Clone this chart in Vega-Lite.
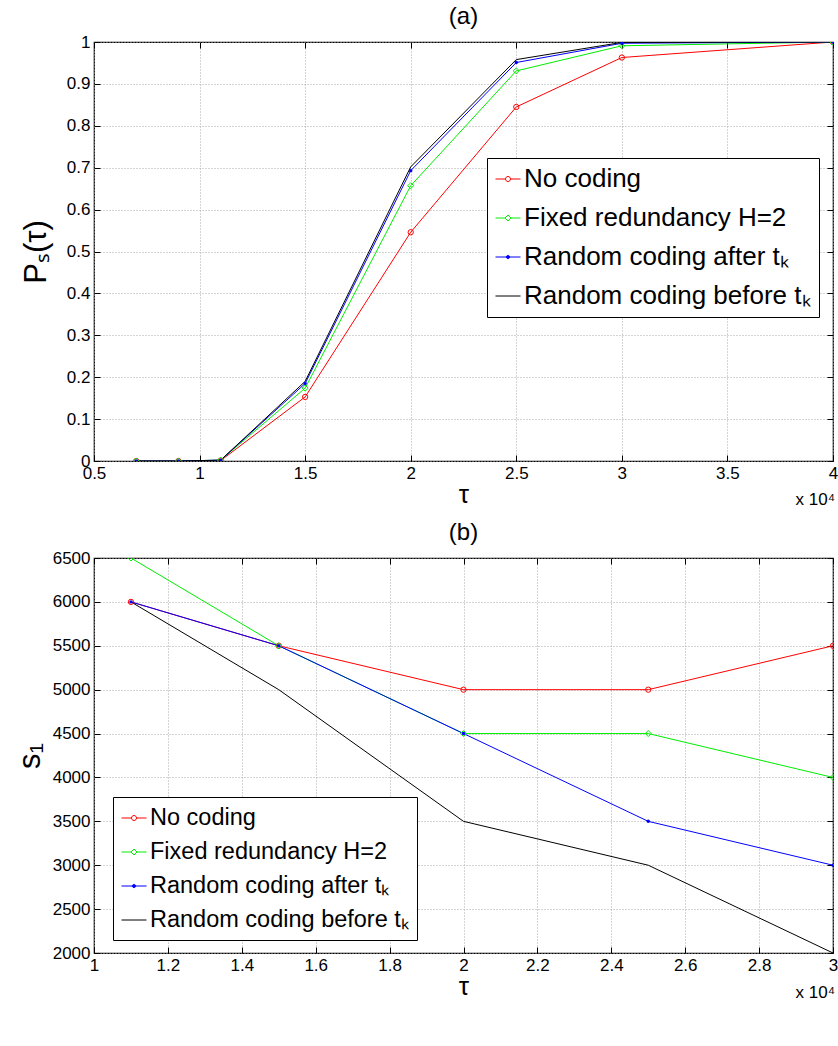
{
  "$schema": "https://vega.github.io/schema/vega-lite/v6.json",
  "padding": {"left": 13, "top": 4, "right": 5, "bottom": 5},
  "background": "white",
  "datasets": {
    "a": [
      {"series": "No coding", "tau": 0.7, "p": 0},
      {"series": "No coding", "tau": 0.9, "p": 0},
      {"series": "No coding", "tau": 1.1, "p": 0.001},
      {"series": "No coding", "tau": 1.5, "p": 0.153},
      {"series": "No coding", "tau": 2.0, "p": 0.546},
      {"series": "No coding", "tau": 2.5, "p": 0.845},
      {"series": "No coding", "tau": 3.0, "p": 0.963},
      {"series": "No coding", "tau": 4.0, "p": 1.0},
      {"series": "Fixed redundancy H=2", "tau": 0.7, "p": 0},
      {"series": "Fixed redundancy H=2", "tau": 0.9, "p": 0},
      {"series": "Fixed redundancy H=2", "tau": 1.1, "p": 0.002},
      {"series": "Fixed redundancy H=2", "tau": 1.5, "p": 0.174},
      {"series": "Fixed redundancy H=2", "tau": 2.0, "p": 0.657},
      {"series": "Fixed redundancy H=2", "tau": 2.5, "p": 0.931},
      {"series": "Fixed redundancy H=2", "tau": 3.0, "p": 0.991},
      {"series": "Fixed redundancy H=2", "tau": 4.0, "p": 1.0},
      {"series": "Random coding after tₖ", "tau": 0.7, "p": 0},
      {"series": "Random coding after tₖ", "tau": 0.9, "p": 0},
      {"series": "Random coding after tₖ", "tau": 1.1, "p": 0.002},
      {"series": "Random coding after tₖ", "tau": 1.5, "p": 0.185},
      {"series": "Random coding after tₖ", "tau": 2.0, "p": 0.693},
      {"series": "Random coding after tₖ", "tau": 2.5, "p": 0.951},
      {"series": "Random coding after tₖ", "tau": 3.0, "p": 0.997},
      {"series": "Random coding after tₖ", "tau": 4.0, "p": 1.0},
      {"series": "Random coding before tₖ", "tau": 0.7, "p": 0},
      {"series": "Random coding before tₖ", "tau": 0.9, "p": 0},
      {"series": "Random coding before tₖ", "tau": 1.1, "p": 0.002},
      {"series": "Random coding before tₖ", "tau": 1.5, "p": 0.19},
      {"series": "Random coding before tₖ", "tau": 2.0, "p": 0.702},
      {"series": "Random coding before tₖ", "tau": 2.5, "p": 0.958},
      {"series": "Random coding before tₖ", "tau": 3.0, "p": 0.999},
      {"series": "Random coding before tₖ", "tau": 4.0, "p": 1.0}
    ],
    "b": [
      {"series": "No coding", "tau": 1.1, "s": 6000},
      {"series": "No coding", "tau": 1.5, "s": 5500},
      {"series": "No coding", "tau": 2.0, "s": 5000},
      {"series": "No coding", "tau": 2.5, "s": 5000},
      {"series": "No coding", "tau": 3.0, "s": 5500},
      {"series": "Fixed redundancy H=2", "tau": 1.1, "s": 6500},
      {"series": "Fixed redundancy H=2", "tau": 1.5, "s": 5500},
      {"series": "Fixed redundancy H=2", "tau": 2.0, "s": 4500},
      {"series": "Fixed redundancy H=2", "tau": 2.5, "s": 4500},
      {"series": "Fixed redundancy H=2", "tau": 3.0, "s": 4000},
      {"series": "Random coding after tₖ", "tau": 1.1, "s": 6000},
      {"series": "Random coding after tₖ", "tau": 1.5, "s": 5500},
      {"series": "Random coding after tₖ", "tau": 2.0, "s": 4500},
      {"series": "Random coding after tₖ", "tau": 2.5, "s": 3500},
      {"series": "Random coding after tₖ", "tau": 3.0, "s": 3000},
      {"series": "Random coding before tₖ", "tau": 1.1, "s": 6000},
      {"series": "Random coding before tₖ", "tau": 1.5, "s": 5000},
      {"series": "Random coding before tₖ", "tau": 2.0, "s": 3500},
      {"series": "Random coding before tₖ", "tau": 2.5, "s": 3000},
      {"series": "Random coding before tₖ", "tau": 3.0, "s": 2000}
    ],
    "note": [{"label": "x 10⁴"}]
  },
  "config": {
    "font": "Liberation Sans",
    "view": {"stroke": "black", "strokeWidth": 1.2},
    "axis": {
      "labelFont": "Liberation Sans", "labelFontSize": 17, "labelColor": "black",
      "titleFont": "Liberation Sans", "titleColor": "black", "titleFontWeight": "normal",
      "tickColor": "black", "tickSize": -6, "tickWidth": 1, "domain": false,
      "gridColor": "#a8a8a8", "gridDash": [1, 2], "gridWidth": 1,
      "labelFlush": false, "labelOverlap": false, "labelPadding": 10
    },
    "title": {"font": "Liberation Sans", "fontSize": 24, "fontWeight": "normal", "color": "black", "offset": 0},
    "legend": {
      "strokeColor": "black", "fillColor": "white", "labelColor": "black",
      "labelFont": "Liberation Sans", "labelLimit": 500, "symbolSize": 625,
      "symbolStrokeWidth": 1, "labelOffset": 3, "padding": 8
    }
  },
  "spacing": 11,
  "resolve": {"scale": {"x": "independent", "y": "independent", "color": "independent"}, "legend": {"color": "independent"}},
  "vconcat": [
    {
      "title": {"text": "(a)", "anchor": "middle"},
      "width": 739,
      "height": 419,
      "resolve": {"axis": {"x": "independent", "y": "independent"}},
      "layer": [
        {
          "layer": [
            {
              "data": {"name": "a"},
              "mark": {"type": "line", "strokeWidth": 1, "clip": true},
              "encoding": {
                "x": {"field": "tau", "type": "quantitative", "scale": {"domain": [0.5, 4]},
                  "axis": {"values": [0.5, 1, 1.5, 2, 2.5, 3, 3.5, 4], "format": "~g", "title": "τ", "titleFontSize": 26, "titlePadding": 0}},
                "y": {"field": "p", "type": "quantitative", "scale": {"domain": [0, 1]},
                  "axis": {"values": [0, 0.1, 0.2, 0.3, 0.4, 0.5, 0.6, 0.7, 0.8, 0.9, 1], "format": "~g", "title": "Pₛ(τ)", "titleFontSize": 31, "titlePadding": 14}},
                "color": {"field": "series", "type": "nominal",
                  "scale": {"domain": ["No coding", "Fixed redundancy H=2", "Random coding after tₖ", "Random coding before tₖ"], "range": ["#ff0000", "#00ee00", "#0000ff", "#000000"]},
                  "legend": {
                    "orient": "none", "legendX": 393, "legendY": 116, "title": null,
                    "labelFontSize": 26, "rowPadding": 13,
                    "encode": {"symbols": {"update": {
                      "shape": {"signal": "datum.value === 'No coding' ? 'M-1,0H-0.2M0.2,0H1M0.2,0A0.2,0.2,0,1,1,-0.2,0A0.2,0.2,0,1,1,0.2,0Z' : datum.value === 'Fixed redundancy H=2' ? 'M-1,0H-0.24M0.24,0H1M0,-0.24L0.24,0L0,0.24L-0.24,0Z' : datum.value === 'Random coding after tₖ' ? 'M-1,0H1M0.13,0A0.13,0.13,0,1,1,-0.13,0A0.13,0.13,0,1,1,0.13,0Z' : 'M-1,0H1'"},
                      "fillOpacity": {"signal": "datum.value === 'Random coding after tₖ' ? 1 : 0"}
                    }}}
                  }}
              }
            },
            {
              "data": {"name": "a"},
              "transform": [{"filter": "datum.series === 'No coding'"}],
              "mark": {"type": "point", "shape": "circle", "filled": false, "size": 28, "strokeWidth": 1, "opacity": 1, "clip": true},
              "encoding": {
                "x": {"field": "tau", "type": "quantitative"},
                "y": {"field": "p", "type": "quantitative"},
                "color": {"field": "series", "type": "nominal", "legend": null}
              }
            },
            {
              "data": {"name": "a"},
              "transform": [{"filter": "datum.series === 'Fixed redundancy H=2'"}],
              "mark": {"type": "point", "shape": "diamond", "filled": false, "size": 36, "strokeWidth": 1, "opacity": 1, "clip": true},
              "encoding": {
                "x": {"field": "tau", "type": "quantitative"},
                "y": {"field": "p", "type": "quantitative"},
                "color": {"field": "series", "type": "nominal", "legend": null}
              }
            },
            {
              "data": {"name": "a"},
              "transform": [{"filter": "datum.series === 'Random coding after tₖ'"}],
              "mark": {"type": "point", "shape": "circle", "filled": true, "size": 12, "opacity": 1, "clip": true},
              "encoding": {
                "x": {"field": "tau", "type": "quantitative"},
                "y": {"field": "p", "type": "quantitative"},
                "color": {"field": "series", "type": "nominal", "legend": null}
              }
            },
            {
              "data": {"name": "note"},
              "mark": {"type": "text", "align": "right", "baseline": "alphabetic", "fontSize": 17, "dx": 2, "dy": 44, "color": "black"},
              "encoding": {"text": {"field": "label"}, "x": {"datum": 4}, "y": {"datum": 0}}
            }
          ]
        },
        {
          "data": {"name": "a"},
          "mark": {"type": "point", "opacity": 0},
          "encoding": {
            "x": {"field": "tau", "type": "quantitative", "axis": {"orient": "top", "labels": false, "grid": false, "title": null, "values": [0.5, 1, 1.5, 2, 2.5, 3, 3.5, 4]}},
            "y": {"field": "p", "type": "quantitative", "axis": {"orient": "right", "labels": false, "grid": false, "title": null, "values": [0, 0.1, 0.2, 0.3, 0.4, 0.5, 0.6, 0.7, 0.8, 0.9, 1]}}
          }
        }
      ]
    },
    {
      "title": {"text": "(b)", "anchor": "middle"},
      "width": 739,
      "height": 395,
      "resolve": {"axis": {"x": "independent", "y": "independent"}},
      "layer": [
        {
          "layer": [
            {
              "data": {"name": "b"},
              "mark": {"type": "line", "strokeWidth": 1, "clip": true},
              "encoding": {
                "x": {"field": "tau", "type": "quantitative", "scale": {"domain": [1, 3]},
                  "axis": {"values": [1, 1.2, 1.4, 1.6, 1.8, 2, 2.2, 2.4, 2.6, 2.8, 3], "format": "~g", "title": "τ", "titleFontSize": 26, "titlePadding": 0}},
                "y": {"field": "s", "type": "quantitative", "scale": {"domain": [2000, 6500]},
                  "axis": {"values": [2000, 2500, 3000, 3500, 4000, 4500, 5000, 5500, 6000, 6500], "format": "d", "title": "s₁", "titleFontSize": 31, "titlePadding": 6}},
                "color": {"field": "series", "type": "nominal",
                  "scale": {"domain": ["No coding", "Fixed redundancy H=2", "Random coding after tₖ", "Random coding before tₖ"], "range": ["#ff0000", "#00ee00", "#0000ff", "#000000"]},
                  "legend": {
                    "orient": "none", "legendX": 19, "legendY": 239, "title": null,
                    "labelFontSize": 23.5, "rowPadding": 9,
                    "encode": {"symbols": {"update": {
                      "shape": {"signal": "datum.value === 'No coding' ? 'M-1,0H-0.2M0.2,0H1M0.2,0A0.2,0.2,0,1,1,-0.2,0A0.2,0.2,0,1,1,0.2,0Z' : datum.value === 'Fixed redundancy H=2' ? 'M-1,0H-0.24M0.24,0H1M0,-0.24L0.24,0L0,0.24L-0.24,0Z' : datum.value === 'Random coding after tₖ' ? 'M-1,0H1M0.13,0A0.13,0.13,0,1,1,-0.13,0A0.13,0.13,0,1,1,0.13,0Z' : 'M-1,0H1'"},
                      "fillOpacity": {"signal": "datum.value === 'Random coding after tₖ' ? 1 : 0"}
                    }}}
                  }}
              }
            },
            {
              "data": {"name": "b"},
              "transform": [{"filter": "datum.series === 'No coding'"}],
              "mark": {"type": "point", "shape": "circle", "filled": false, "size": 28, "strokeWidth": 1, "opacity": 1, "clip": true},
              "encoding": {
                "x": {"field": "tau", "type": "quantitative"},
                "y": {"field": "s", "type": "quantitative"},
                "color": {"field": "series", "type": "nominal", "legend": null}
              }
            },
            {
              "data": {"name": "b"},
              "transform": [{"filter": "datum.series === 'Fixed redundancy H=2'"}],
              "mark": {"type": "point", "shape": "diamond", "filled": false, "size": 36, "strokeWidth": 1, "opacity": 1, "clip": true},
              "encoding": {
                "x": {"field": "tau", "type": "quantitative"},
                "y": {"field": "s", "type": "quantitative"},
                "color": {"field": "series", "type": "nominal", "legend": null}
              }
            },
            {
              "data": {"name": "b"},
              "transform": [{"filter": "datum.series === 'Random coding after tₖ'"}],
              "mark": {"type": "point", "shape": "circle", "filled": true, "size": 12, "opacity": 1, "clip": true},
              "encoding": {
                "x": {"field": "tau", "type": "quantitative"},
                "y": {"field": "s", "type": "quantitative"},
                "color": {"field": "series", "type": "nominal", "legend": null}
              }
            },
            {
              "data": {"name": "note"},
              "mark": {"type": "text", "align": "right", "baseline": "alphabetic", "fontSize": 17, "dx": 2, "dy": 45, "color": "black"},
              "encoding": {"text": {"field": "label"}, "x": {"datum": 3}, "y": {"datum": 2000}}
            }
          ]
        },
        {
          "data": {"name": "b"},
          "mark": {"type": "point", "opacity": 0},
          "encoding": {
            "x": {"field": "tau", "type": "quantitative", "axis": {"orient": "top", "labels": false, "grid": false, "title": null, "values": [1, 1.2, 1.4, 1.6, 1.8, 2, 2.2, 2.4, 2.6, 2.8, 3]}},
            "y": {"field": "s", "type": "quantitative", "axis": {"orient": "right", "labels": false, "grid": false, "title": null, "values": [2000, 2500, 3000, 3500, 4000, 4500, 5000, 5500, 6000, 6500]}}
          }
        }
      ]
    }
  ]
}
